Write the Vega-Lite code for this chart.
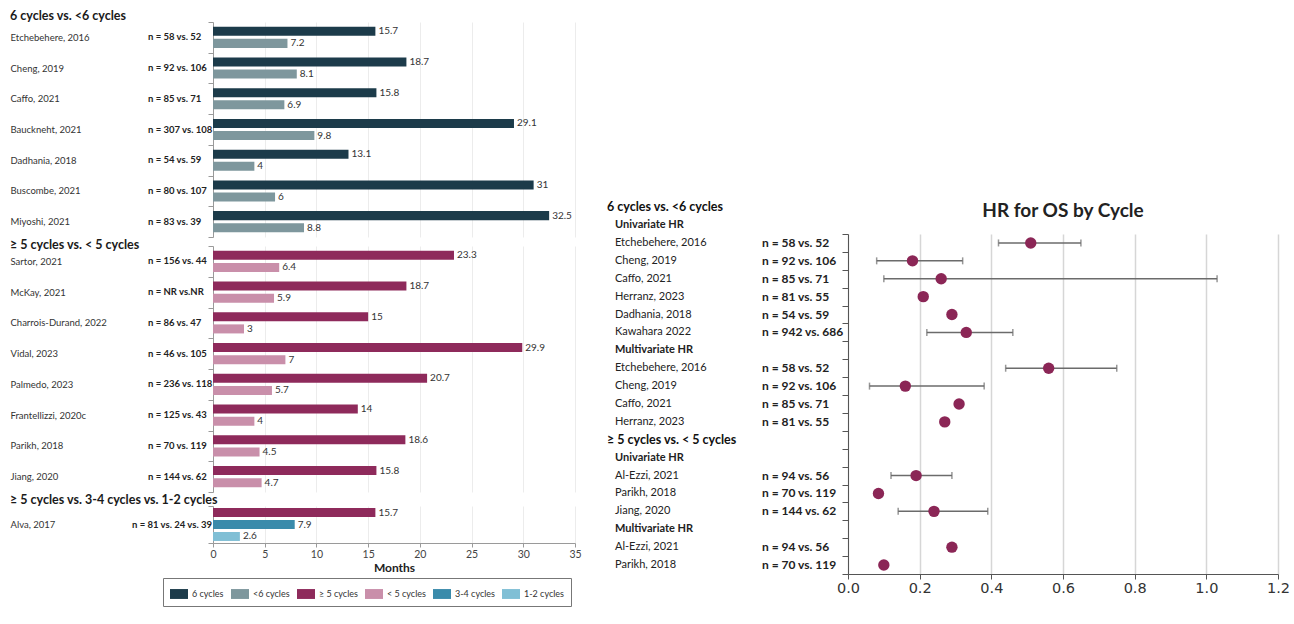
{
  "$schema": "https://vega.github.io/schema/vega-lite/v6.json",
  "padding": {"left": 10, "top": 9, "right": 4, "bottom": 4},
  "config": {
    "font": "Lato",
    "view": {"stroke": null},
    "title": {"anchor": "start", "frame": "bounds", "fontSize": 12.5, "fontWeight": "bold", "offset": -10, "color": "#1a1a1a"},
    "legend": {
      "orient": "none",
      "legendX": -50,
      "legendY": 556,
      "direction": "horizontal",
      "strokeColor": "#777",
      "padding": 7,
      "columnPadding": 7,
      "labelFontSize": 9,
      "labelColor": "#333",
      "labelOffset": 4,
      "symbolType": "M-1,-0.55H1V0.55H-1Z",
      "symbolSize": 324,
      "symbolStrokeWidth": 0
    }
  },
  "datasets": {
    "bars": [
      {"group": "A", "study": "Etchebehere, 2016", "arm": "6 cycles", "months": 15.7},
      {"group": "A", "study": "Etchebehere, 2016", "arm": "<6 cycles", "months": 7.2},
      {"group": "A", "study": "Cheng, 2019", "arm": "6 cycles", "months": 18.7},
      {"group": "A", "study": "Cheng, 2019", "arm": "<6 cycles", "months": 8.1},
      {"group": "A", "study": "Caffo, 2021", "arm": "6 cycles", "months": 15.8},
      {"group": "A", "study": "Caffo, 2021", "arm": "<6 cycles", "months": 6.9},
      {"group": "A", "study": "Bauckneht, 2021", "arm": "6 cycles", "months": 29.1},
      {"group": "A", "study": "Bauckneht, 2021", "arm": "<6 cycles", "months": 9.8},
      {"group": "A", "study": "Dadhania, 2018", "arm": "6 cycles", "months": 13.1},
      {"group": "A", "study": "Dadhania, 2018", "arm": "<6 cycles", "months": 4},
      {"group": "A", "study": "Buscombe, 2021", "arm": "6 cycles", "months": 31},
      {"group": "A", "study": "Buscombe, 2021", "arm": "<6 cycles", "months": 6},
      {"group": "A", "study": "Miyoshi, 2021", "arm": "6 cycles", "months": 32.5},
      {"group": "A", "study": "Miyoshi, 2021", "arm": "<6 cycles", "months": 8.8},
      {"group": "B", "study": "Sartor, 2021", "arm": "≥ 5 cycles", "months": 23.3},
      {"group": "B", "study": "Sartor, 2021", "arm": "< 5 cycles", "months": 6.4},
      {"group": "B", "study": "McKay, 2021", "arm": "≥ 5 cycles", "months": 18.7},
      {"group": "B", "study": "McKay, 2021", "arm": "< 5 cycles", "months": 5.9},
      {"group": "B", "study": "Charrois-Durand, 2022", "arm": "≥ 5 cycles", "months": 15},
      {"group": "B", "study": "Charrois-Durand, 2022", "arm": "< 5 cycles", "months": 3},
      {"group": "B", "study": "Vidal, 2023", "arm": "≥ 5 cycles", "months": 29.9},
      {"group": "B", "study": "Vidal, 2023", "arm": "< 5 cycles", "months": 7},
      {"group": "B", "study": "Palmedo, 2023", "arm": "≥ 5 cycles", "months": 20.7},
      {"group": "B", "study": "Palmedo, 2023", "arm": "< 5 cycles", "months": 5.7},
      {"group": "B", "study": "Frantellizzi, 2020c", "arm": "≥ 5 cycles", "months": 14},
      {"group": "B", "study": "Frantellizzi, 2020c", "arm": "< 5 cycles", "months": 4},
      {"group": "B", "study": "Parikh, 2018", "arm": "≥ 5 cycles", "months": 18.6},
      {"group": "B", "study": "Parikh, 2018", "arm": "< 5 cycles", "months": 4.5},
      {"group": "B", "study": "Jiang, 2020", "arm": "≥ 5 cycles", "months": 15.8},
      {"group": "B", "study": "Jiang, 2020", "arm": "< 5 cycles", "months": 4.7},
      {"group": "C", "study": "Alva, 2017", "arm": "≥ 5 cycles", "months": 15.7},
      {"group": "C", "study": "Alva, 2017", "arm": "3-4 cycles", "months": 7.9},
      {"group": "C", "study": "Alva, 2017", "arm": "1-2 cycles", "months": 2.6}
    ],
    "studies": [
      {"group": "A", "study": "Etchebehere, 2016", "n": "n = 58 vs. 52"},
      {"group": "A", "study": "Cheng, 2019", "n": "n = 92 vs. 106"},
      {"group": "A", "study": "Caffo, 2021", "n": "n = 85 vs. 71"},
      {"group": "A", "study": "Bauckneht, 2021", "n": "n = 307 vs. 108"},
      {"group": "A", "study": "Dadhania, 2018", "n": "n = 54 vs. 59"},
      {"group": "A", "study": "Buscombe, 2021", "n": "n = 80 vs. 107"},
      {"group": "A", "study": "Miyoshi, 2021", "n": "n = 83 vs. 39"},
      {"group": "B", "study": "Sartor, 2021", "n": "n = 156 vs. 44"},
      {"group": "B", "study": "McKay, 2021", "n": "n = NR vs.NR"},
      {"group": "B", "study": "Charrois-Durand, 2022", "n": "n = 86 vs. 47"},
      {"group": "B", "study": "Vidal, 2023", "n": "n = 46 vs. 105"},
      {"group": "B", "study": "Palmedo, 2023", "n": "n = 236 vs. 118"},
      {"group": "B", "study": "Frantellizzi, 2020c", "n": "n = 125 vs. 43"},
      {"group": "B", "study": "Parikh, 2018", "n": "n = 70 vs. 119"},
      {"group": "B", "study": "Jiang, 2020", "n": "n = 144 vs. 62"},
      {"group": "C", "study": "Alva, 2017", "n": "n = 81 vs. 24 vs. 39"}
    ],
    "forest": [
      {"key": "u6-etchebehere", "kind": "study", "label": "Etchebehere, 2016", "n": "n = 58 vs. 52", "hr": 0.51, "lo": 0.42, "hi": 0.65},
      {"key": "u6-cheng", "kind": "study", "label": "Cheng, 2019", "n": "n = 92 vs. 106", "hr": 0.18, "lo": 0.08, "hi": 0.32},
      {"key": "u6-caffo", "kind": "study", "label": "Caffo, 2021", "n": "n = 85 vs. 71", "hr": 0.26, "lo": 0.10, "hi": 1.03},
      {"key": "u6-herranz", "kind": "study", "label": "Herranz, 2023", "n": "n = 81 vs. 55", "hr": 0.21, "lo": null, "hi": null},
      {"key": "u6-dadhania", "kind": "study", "label": "Dadhania, 2018", "n": "n = 54 vs. 59", "hr": 0.29, "lo": null, "hi": null},
      {"key": "u6-kawahara", "kind": "study", "label": "Kawahara 2022", "n": "n = 942 vs. 686", "hr": 0.33, "lo": 0.22, "hi": 0.46},
      {"key": "m6-head", "kind": "sub", "label": "Multivariate HR", "n": null, "hr": null, "lo": null, "hi": null},
      {"key": "m6-etchebehere", "kind": "study", "label": "Etchebehere, 2016", "n": "n = 58 vs. 52", "hr": 0.56, "lo": 0.44, "hi": 0.75},
      {"key": "m6-cheng", "kind": "study", "label": "Cheng, 2019", "n": "n = 92 vs. 106", "hr": 0.16, "lo": 0.06, "hi": 0.38},
      {"key": "m6-caffo", "kind": "study", "label": "Caffo, 2021", "n": "n = 85 vs. 71", "hr": 0.31, "lo": null, "hi": null},
      {"key": "m6-herranz", "kind": "study", "label": "Herranz, 2023", "n": "n = 81 vs. 55", "hr": 0.27, "lo": null, "hi": null},
      {"key": "s5-head", "kind": "section", "label": "≥ 5 cycles vs. < 5 cycles", "n": null, "hr": null, "lo": null, "hi": null},
      {"key": "u5-head", "kind": "sub", "label": "Univariate HR", "n": null, "hr": null, "lo": null, "hi": null},
      {"key": "u5-alezzi", "kind": "study", "label": "Al-Ezzi, 2021", "n": "n = 94 vs. 56", "hr": 0.19, "lo": 0.12, "hi": 0.29},
      {"key": "u5-parikh", "kind": "study", "label": "Parikh, 2018", "n": "n = 70 vs. 119", "hr": 0.085, "lo": null, "hi": null},
      {"key": "u5-jiang", "kind": "study", "label": "Jiang, 2020", "n": "n = 144 vs. 62", "hr": 0.24, "lo": 0.14, "hi": 0.39},
      {"key": "m5-head", "kind": "sub", "label": "Multivariate HR", "n": null, "hr": null, "lo": null, "hi": null},
      {"key": "m5-alezzi", "kind": "study", "label": "Al-Ezzi, 2021", "n": "n = 94 vs. 56", "hr": 0.29, "lo": null, "hi": null},
      {"key": "m5-parikh", "kind": "study", "label": "Parikh, 2018", "n": "n = 70 vs. 119", "hr": 0.10, "lo": null, "hi": null}
    ],
    "forestHead": [
      {"kind": "section", "label": "6 cycles vs. <6 cycles"},
      {"kind": "sub", "label": "Univariate HR"}
    ]
  },
  "spacing": 25,
  "resolve": {"scale": {"color": "independent"}, "legend": {"color": "independent"}},
  "hconcat": [
    {
      "spacing": 0,
      "resolve": {"scale": {"yOffset": "independent"}},
      "vconcat": [
        {
          "title": {"text": "6 cycles vs. <6 cycles", "offset": -5},
          "width": 362,
          "height": 215,
          "layer": [
            {
              "data": {"name": "bars"},
              "transform": [{"filter": "datum.group === 'A'"}],
              "mark": {"type": "bar"},
              "encoding": {
                "y": {"field": "study", "type": "nominal",
                  "scale": {"domain": ["Etchebehere, 2016", "Cheng, 2019", "Caffo, 2021", "Bauckneht, 2021", "Dadhania, 2018", "Buscombe, 2021", "Miyoshi, 2021"], "paddingInner": 0, "paddingOuter": 0},
                  "axis": {"title": null, "labelAlign": "left", "labelPadding": 198, "labelFontSize": 9.5, "labelColor": "#333", "labelLimit": 180, "tickBand": "extent", "tickSize": 5, "tickColor": "#9a9a9a", "domainColor": "#9a9a9a", "grid": false}},
                "yOffset": {"field": "arm", "type": "nominal", "scale": {"domain": ["6 cycles", "<6 cycles"], "paddingInner": 0.25, "paddingOuter": 0.4}},
                "x": {"field": "months", "type": "quantitative", "scale": {"domain": [0, 35], "nice": false},
                  "axis": {"title": null, "labels": false, "ticks": false, "domain": false, "values": [0, 5, 10, 15, 20, 25, 30, 35], "gridColor": "#ececec"}},
                "color": {"field": "arm", "type": "nominal",
                  "scale": {"domain": ["6 cycles", "<6 cycles", "≥ 5 cycles", "< 5 cycles", "3-4 cycles", "1-2 cycles"], "range": ["#1c3b4a", "#7e979d", "#8e2a5b", "#c98faa", "#3a8bab", "#80bfd5"]},
                  "legend": {"title": null}}
              }
            },
            {
              "data": {"name": "bars"},
              "transform": [{"filter": "datum.group === 'A'"}],
              "mark": {"type": "text", "align": "left", "baseline": "middle", "dx": 3, "fontSize": 10, "color": "#333"},
              "encoding": {
                "y": {"field": "study", "type": "nominal"},
                "yOffset": {"field": "arm", "type": "nominal"},
                "x": {"field": "months", "type": "quantitative"},
                "text": {"field": "months", "type": "quantitative"}
              }
            },
            {
              "data": {"name": "studies"},
              "transform": [{"filter": "datum.group === 'A'"}],
              "mark": {"type": "text", "align": "left", "baseline": "middle", "dx": -65, "fontSize": 9.5, "fontWeight": "bold", "color": "#222"},
              "encoding": {
                "y": {"field": "study", "type": "nominal"},
                "x": {"datum": 0},
                "text": {"field": "n", "type": "nominal"}
              }
            }
          ]
        },
        {
          "title": {"text": "≥ 5 cycles vs. < 5 cycles"},
          "width": 362,
          "height": 246,
          "layer": [
            {
              "data": {"name": "bars"},
              "transform": [{"filter": "datum.group === 'B'"}],
              "mark": {"type": "bar"},
              "encoding": {
                "y": {"field": "study", "type": "nominal",
                  "scale": {"domain": ["Sartor, 2021", "McKay, 2021", "Charrois-Durand, 2022", "Vidal, 2023", "Palmedo, 2023", "Frantellizzi, 2020c", "Parikh, 2018", "Jiang, 2020"], "paddingInner": 0, "paddingOuter": 0},
                  "axis": {"title": null, "labelAlign": "left", "labelPadding": 198, "labelFontSize": 9.5, "labelColor": "#333", "labelLimit": 180, "tickBand": "extent", "tickSize": 5, "tickColor": "#9a9a9a", "domainColor": "#9a9a9a", "grid": false}},
                "yOffset": {"field": "arm", "type": "nominal", "scale": {"domain": ["≥ 5 cycles", "< 5 cycles"], "paddingInner": 0.25, "paddingOuter": 0.4}},
                "x": {"field": "months", "type": "quantitative", "scale": {"domain": [0, 35], "nice": false},
                  "axis": {"title": null, "labels": false, "ticks": false, "domain": false, "values": [0, 5, 10, 15, 20, 25, 30, 35], "gridColor": "#ececec"}},
                "color": {"field": "arm", "type": "nominal",
                  "scale": {"domain": ["6 cycles", "<6 cycles", "≥ 5 cycles", "< 5 cycles", "3-4 cycles", "1-2 cycles"], "range": ["#1c3b4a", "#7e979d", "#8e2a5b", "#c98faa", "#3a8bab", "#80bfd5"]},
                  "legend": {"title": null}}
              }
            },
            {
              "data": {"name": "bars"},
              "transform": [{"filter": "datum.group === 'B'"}],
              "mark": {"type": "text", "align": "left", "baseline": "middle", "dx": 3, "fontSize": 10, "color": "#333"},
              "encoding": {
                "y": {"field": "study", "type": "nominal"},
                "yOffset": {"field": "arm", "type": "nominal"},
                "x": {"field": "months", "type": "quantitative"},
                "text": {"field": "months", "type": "quantitative"}
              }
            },
            {
              "data": {"name": "studies"},
              "transform": [{"filter": "datum.group === 'B'"}],
              "mark": {"type": "text", "align": "left", "baseline": "middle", "dx": -65, "fontSize": 9.5, "fontWeight": "bold", "color": "#222"},
              "encoding": {
                "y": {"field": "study", "type": "nominal"},
                "x": {"datum": 0},
                "text": {"field": "n", "type": "nominal"}
              }
            }
          ]
        },
        {
          "title": {"text": "≥ 5 cycles vs. 3-4 cycles vs. 1-2 cycles", "offset": -5},
          "width": 362,
          "height": 37,
          "layer": [
            {
              "data": {"name": "bars"},
              "transform": [{"filter": "datum.group === 'C'"}],
              "mark": {"type": "bar"},
              "encoding": {
                "y": {"field": "study", "type": "nominal",
                  "scale": {"domain": ["Alva, 2017"], "paddingInner": 0, "paddingOuter": 0},
                  "axis": {"title": null, "labelAlign": "left", "labelPadding": 198, "labelFontSize": 9.5, "labelColor": "#333", "labelLimit": 180, "tickBand": "extent", "tickSize": 5, "tickColor": "#9a9a9a", "domainColor": "#9a9a9a", "grid": false}},
                "yOffset": {"field": "arm", "type": "nominal", "scale": {"domain": ["≥ 5 cycles", "3-4 cycles", "1-2 cycles"], "paddingInner": 0.25, "paddingOuter": 0.17}},
                "x": {"field": "months", "type": "quantitative", "scale": {"domain": [0, 35], "nice": false},
                  "axis": {"title": "Months", "titleFontSize": 12, "titleFontWeight": "bold", "titleColor": "#222", "titlePadding": 3, "values": [0, 5, 10, 15, 20, 25, 30, 35], "labelFlush": false, "labelFontSize": 10.5, "labelColor": "#444", "gridColor": "#ececec", "domainColor": "#9a9a9a", "tickColor": "#9a9a9a", "tickSize": 4}},
                "color": {"field": "arm", "type": "nominal",
                  "scale": {"domain": ["6 cycles", "<6 cycles", "≥ 5 cycles", "< 5 cycles", "3-4 cycles", "1-2 cycles"], "range": ["#1c3b4a", "#7e979d", "#8e2a5b", "#c98faa", "#3a8bab", "#80bfd5"]},
                  "legend": {"title": null}}
              }
            },
            {
              "data": {"name": "bars"},
              "transform": [{"filter": "datum.group === 'C'"}],
              "mark": {"type": "text", "align": "left", "baseline": "middle", "dx": 3, "fontSize": 10, "color": "#333"},
              "encoding": {
                "y": {"field": "study", "type": "nominal"},
                "yOffset": {"field": "arm", "type": "nominal"},
                "x": {"field": "months", "type": "quantitative"},
                "text": {"field": "months", "type": "quantitative"}
              }
            },
            {
              "data": {"name": "studies"},
              "transform": [{"filter": "datum.group === 'C'"}],
              "mark": {"type": "text", "align": "left", "baseline": "middle", "dx": -81, "fontSize": 9.5, "fontWeight": "bold", "color": "#222"},
              "encoding": {
                "y": {"field": "study", "type": "nominal"},
                "x": {"datum": 0},
                "text": {"field": "n", "type": "nominal"}
              }
            }
          ]
        }
      ]
    },
    {
      "spacing": 0,
      "vconcat": [
        {
          "width": 20,
          "height": 178,
          "data": {"values": []},
          "mark": {"type": "point", "opacity": 0},
          "encoding": {}
        },
        {
          "title": {"text": "HR for OS by Cycle", "anchor": "middle", "frame": "group", "fontSize": 19, "fontWeight": "bold", "offset": -20, "color": "#222"},
          "width": 430,
          "height": 340,
          "data": {"name": "forest"},
          "encoding": {
            "y": {"field": "key", "type": "nominal",
              "scale": {"domain": ["u6-etchebehere", "u6-cheng", "u6-caffo", "u6-herranz", "u6-dadhania", "u6-kawahara", "m6-head", "m6-etchebehere", "m6-cheng", "m6-caffo", "m6-herranz", "s5-head", "u5-head", "u5-alezzi", "u5-parikh", "u5-jiang", "m5-head", "m5-alezzi", "m5-parikh"], "paddingInner": 0, "paddingOuter": 0},
              "axis": {"title": null, "labels": false, "tickBand": "extent", "tickSize": 6, "tickColor": "#555", "domainColor": "#555", "grid": false}}
          },
          "layer": [
            {
              "transform": [{"filter": "isValid(datum.lo)"}],
              "mark": {"type": "rule", "color": "#6b6b6b", "strokeWidth": 1.5},
              "encoding": {
                "x": {"field": "lo", "type": "quantitative", "scale": {"domain": [0, 1.2], "nice": false},
                  "axis": {"title": null, "values": [0, 0.2, 0.4, 0.6, 0.8, 1.0, 1.2], "format": ".1f", "labelFlush": false, "labelFont": "DejaVu Sans", "labelFontSize": 14.5, "labelColor": "#333", "labelPadding": 2, "gridColor": "#d6d6d6", "gridWidth": 1.5, "domainColor": "#555", "tickColor": "#555", "tickSize": 5}},
                "x2": {"field": "hi"}
              }
            },
            {
              "transform": [{"filter": "isValid(datum.lo)"}],
              "mark": {"type": "tick", "orient": "vertical", "size": 7, "thickness": 1.5, "color": "#6b6b6b"},
              "encoding": {"x": {"field": "lo", "type": "quantitative"}}
            },
            {
              "transform": [{"filter": "isValid(datum.hi)"}],
              "mark": {"type": "tick", "orient": "vertical", "size": 7, "thickness": 1.5, "color": "#6b6b6b"},
              "encoding": {"x": {"field": "hi", "type": "quantitative"}}
            },
            {
              "transform": [{"filter": "isValid(datum.hr)"}],
              "mark": {"type": "circle", "size": 130, "color": "#8b2656", "opacity": 1},
              "encoding": {"x": {"field": "hr", "type": "quantitative"}}
            },
            {
              "transform": [{"filter": "datum.kind === 'study'"}],
              "mark": {"type": "text", "align": "left", "baseline": "middle", "dx": -233, "fontSize": 11, "color": "#222"},
              "encoding": {"x": {"datum": 0}, "text": {"field": "label", "type": "nominal"}}
            },
            {
              "transform": [{"filter": "datum.kind === 'sub'"}],
              "mark": {"type": "text", "align": "left", "baseline": "middle", "dx": -233, "fontSize": 11, "fontWeight": "bold", "color": "#222"},
              "encoding": {"x": {"datum": 0}, "text": {"field": "label", "type": "nominal"}}
            },
            {
              "transform": [{"filter": "datum.kind === 'section'"}],
              "mark": {"type": "text", "align": "left", "baseline": "middle", "dx": -241, "fontSize": 12.5, "fontWeight": "bold", "color": "#111"},
              "encoding": {"x": {"datum": 0}, "text": {"field": "label", "type": "nominal"}}
            },
            {
              "transform": [{"filter": "isValid(datum.n)"}],
              "mark": {"type": "text", "align": "left", "baseline": "middle", "dx": -86, "fontSize": 12, "fontWeight": "bold", "color": "#222"},
              "encoding": {"x": {"datum": 0}, "text": {"field": "n", "type": "nominal"}}
            },
            {
              "data": {"name": "forestHead"},
              "transform": [{"filter": "datum.kind === 'section'"}],
              "mark": {"type": "text", "align": "left", "baseline": "middle", "dx": -241, "dy": -36, "fontSize": 12.5, "fontWeight": "bold", "color": "#111"},
              "encoding": {"x": {"datum": 0}, "y": {"datum": "u6-etchebehere"}, "text": {"field": "label", "type": "nominal"}}
            },
            {
              "data": {"name": "forestHead"},
              "transform": [{"filter": "datum.kind === 'sub'"}],
              "mark": {"type": "text", "align": "left", "baseline": "middle", "dx": -233, "dy": -18, "fontSize": 11, "fontWeight": "bold", "color": "#222"},
              "encoding": {"x": {"datum": 0}, "y": {"datum": "u6-etchebehere"}, "text": {"field": "label", "type": "nominal"}}
            }
          ]
        }
      ]
    }
  ]
}
